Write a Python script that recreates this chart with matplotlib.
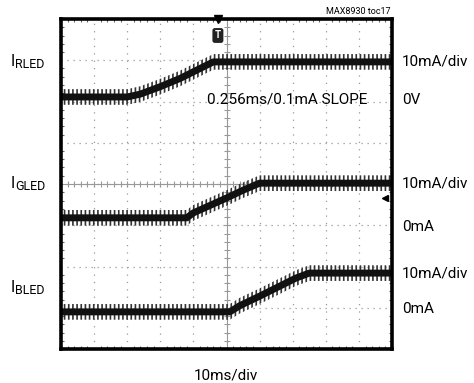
import numpy as np
import matplotlib.pyplot as plt

# time in ms (10 ms/div), level in scope divisions (0 = bottom, 8 = top)
t_red = [0, 20, 24, 30, 36, 42, 46, 100]
y_red = [6.11, 6.11, 6.18, 6.36, 6.56, 6.80, 6.96, 6.96]
t_green = [0, 38, 40, 45, 50, 55, 60, 100]
y_green = [3.18, 3.18, 3.30, 3.48, 3.66, 3.85, 4.02, 4.02]
t_blue = [0, 51, 54, 60, 66, 71, 75, 100]
y_blue = [0.90, 0.90, 1.05, 1.28, 1.52, 1.72, 1.84, 1.84]
noise = 0.19  # half height of the noisy band, div

left_labels = [("I", "RLED", 62), ("I", "GLED", 184), ("I", "BLED", 288)]
right_labels = [("10mA/div", 62), ("0V", 100), ("10mA/div", 184),
                ("0mA", 227), ("10mA/div", 273), ("0mA", 309)]

W, H = 474, 383
plt.rcParams['font.family'] = ['DejaVu Sans Condensed', 'Roboto', 'DejaVu Sans']
plt.rcParams['font.stretch'] = 'condensed'
plt.rcParams['hatch.linewidth'] = 1.2
fig = plt.figure(figsize=(W / 100, H / 100), dpi=100)
ax = fig.add_axes([61 / W, 1 - 349 / H, 331 / W, 330 / H])

def px(x, y):
    return x / W, 1 - y / H

ax.set_xlim(0, 100)
ax.set_ylim(0, 8)
ax.set_xticks(np.arange(0, 101, 10))
ax.set_yticks(np.arange(0, 9, 1))
ax.set_xticks(np.arange(0, 101, 2), minor=True)
ax.set_yticks(np.arange(0, 8.01, 0.2), minor=True)
ax.tick_params(which='both', direction='in', top=True, right=True,
               labelbottom=False, labelleft=False, color='#666666')
ax.tick_params(which='major', length=0)
ax.tick_params(which='minor', length=2.5, width=0.8)
for s in ax.spines.values():
    s.set_linewidth(2.6)
    s.set_zorder(5)
ax.xaxis.grid(True, color='#999999', lw=0.9, linestyle=(0, (1, 4.9)))
ax.yaxis.grid(True, color='#999999', lw=0.9, linestyle=(0, (1, 3.8)))

# centre cross with small tick marks
ax.axvline(50, color='#999999', lw=0.8)
ax.axhline(4, color='#999999', lw=0.8)
mx = np.arange(0, 101, 2)
my = np.arange(0, 8.01, 0.2)
ax.plot(mx, np.full(len(mx), 4.0), '|', color='#999999', ms=5, mew=0.8)
ax.plot(np.full(len(my), 50.0), my, '_', color='#999999', ms=5, mew=0.8)

for t, y in [(t_red, y_red), (t_green, y_green), (t_blue, y_blue)]:
    y = np.array(y)
    ax.fill_between(t, y - noise, y + noise, facecolor='none',
                    edgecolor='#333333', hatch='||||', lw=0, zorder=3)
    ax.plot(t, y, color='#111111', lw=5.0, zorder=4, solid_capstyle='butt')

# trigger marker and ground arrow
ax.plot([47.4], [8.0], marker='v', color='black', ms=6, clip_on=False, zorder=6)
ax.text(47.4, 7.6, "T", ha='center', va='center', color='white', fontsize=7,
        fontweight='bold', zorder=6,
        bbox=dict(boxstyle='round,pad=0.25', fc='#222222', ec='none'))
ax.plot([97.9], [3.66], marker='<', color='black', ms=5, zorder=6)

for big, sub, y in left_labels:
    fig.text(*px(11, y), big, fontsize=11.5, va='center', ha='left')
    fig.text(*px(15, y + 3), sub, fontsize=9, va='center', ha='left')
for s, y in right_labels:
    fig.text(*px(402, y), s, fontsize=11, va='center', ha='left')

fig.text(*px(287, 100), "0.256ms/0.1mA SLOPE", fontsize=11, ha='center', va='center')
fig.text(*px(226, 375), "10ms/div", fontsize=11, ha='center', va='center')
fig.text(*px(391, 12), "MAX8930 toc17", fontsize=6.5, ha='right', va='center')

fig.savefig("out.png", dpi=100)
